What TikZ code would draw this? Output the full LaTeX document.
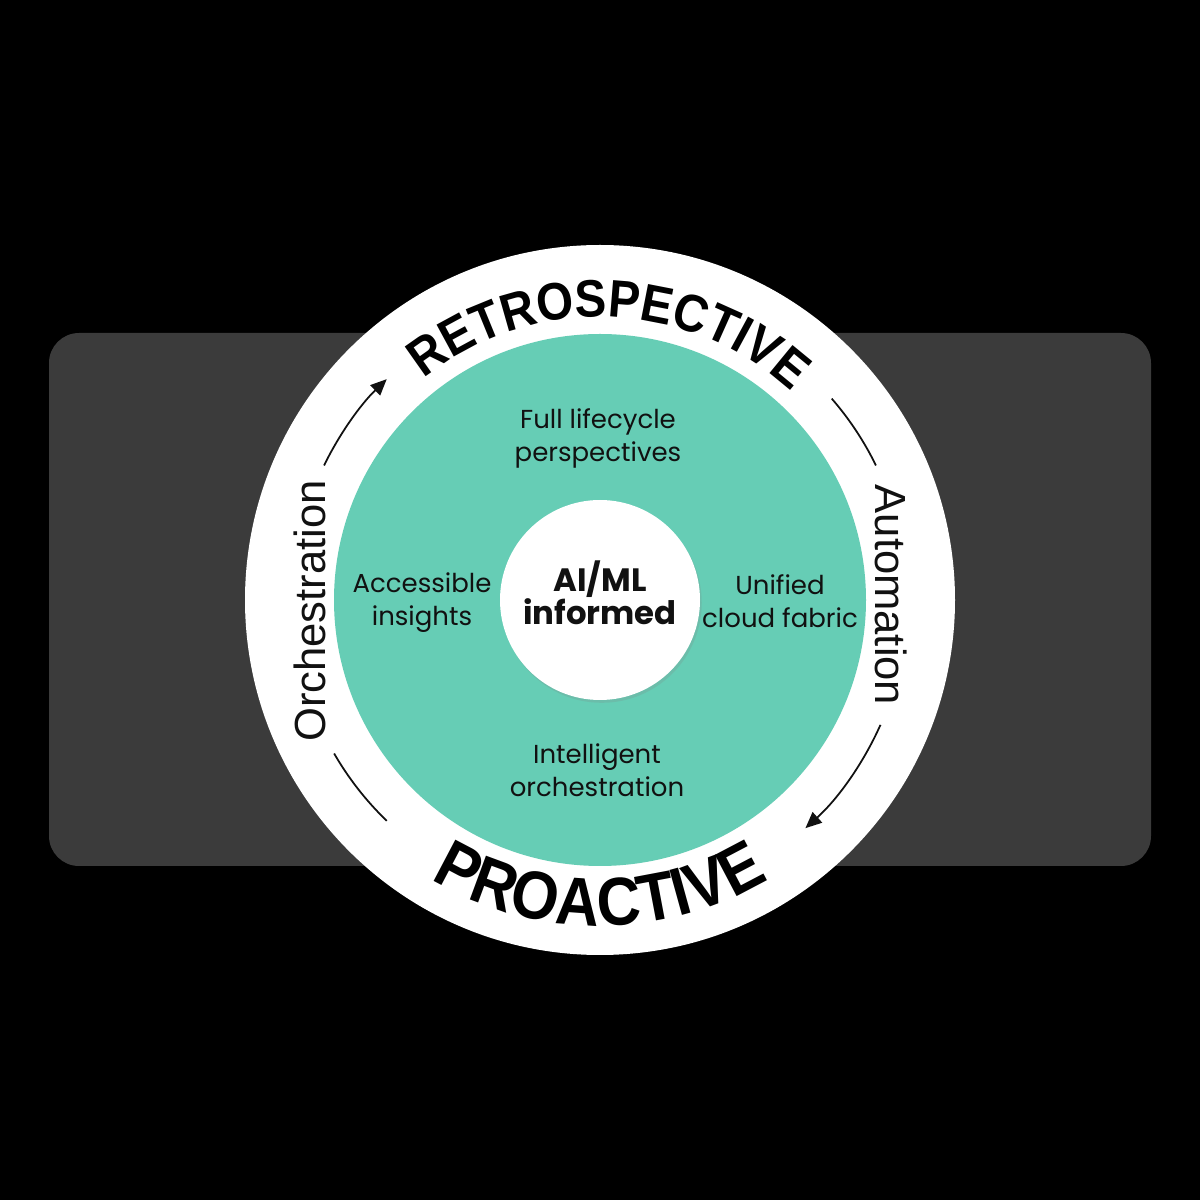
\documentclass[tikz,border=0pt]{standalone}
\usepackage{fontspec}
\setmainfont{Poppins}
\newfontfamily\arcfont[FakeStretch=0.9]{Liberation Sans Bold}
\newfontfamily\sidefont{Liberation Sans}
\usetikzlibrary{decorations.text,arrows.meta,shadows,calc}
\definecolor{tealfill}{HTML}{66CDB5}
\definecolor{panel}{HTML}{3B3B3B}
\definecolor{ink}{HTML}{111111}
\tikzset{
  innertext/.style={align=center, text=ink, inner sep=0pt, font=\fontsize{7.4}{9.4}\selectfont},
  sidetext/.style={text=ink, inner sep=0pt, font=\sidefont\fontsize{12.4}{14}\selectfont},
  arcline/.style={draw=ink, line width=0.5pt},
  tip/.style={-{Triangle[length=4.6pt,width=4pt]}}
}
\begin{document}
\begin{tikzpicture}
\fill[black] (0,0) rectangle (12,12);
\useasboundingbox (0,0) rectangle (12,12);
\fill[panel, rounded corners=0.3cm] (0.49,3.34) rectangle (11.51,8.67);
\coordinate (c) at (6,6);
\node[circle, fill=white, minimum size=7.1cm, inner sep=0pt] (outer) at (c) {};
\node[circle, fill=tealfill, minimum size=5.32cm, inner sep=0pt] (ring) at (c) {};
\node[circle, fill=white, minimum size=2.0cm, inner sep=0pt,
      drop shadow={shadow xshift=0.5pt, shadow yshift=-0.8pt, opacity=0.2}] (core) at (c) {};
\node[align=center, text=ink, inner sep=0pt, font=\fontsize{9.2}{9.4}\selectfont\bfseries] (ai) at (6,6.07) {AI/ML\\informed};
\node[innertext] (full) at (5.98,7.62) {Full lifecycle\\perspectives};
\node[innertext] (access) at (4.22,5.97) {Accessible\\insights};
\node[innertext] (unified) at (7.80,5.99) {Unified\\cloud fabric};
\node[innertext] (intel) at (5.97,4.30) {Intelligent\\orchestration};
\path[decorate, decoration={text along path, text align=center,
   text={|\arcfont\fontsize{15}{15}\selectfont|RETROSPECTIVE}}]
   ($(c)+(133:2.83)$) arc[start angle=133, end angle=43, radius=2.83];
\path[decorate, decoration={text along path, text align=center,
   text={|\arcfont\fontsize{19.3}{19}\selectfont|PROACTIVE}}]
   ($(c)+(225:3.26)$) arc[start angle=225, end angle=315, radius=3.26];
\node[sidetext, rotate=90] (orch) at (3.10,5.89) {Orchestration};
\node[sidetext, rotate=-90] (auto) at (8.91,6.05) {Automation};
\draw[arcline] ($(c)+(226:3.07)$) arc[start angle=226, end angle=210, radius=3.07];
\draw[arcline, tip] ($(c)+(154:3.07)$) arc[start angle=154, end angle=134, radius=3.07];
\draw[arcline] ($(c)+(41:3.07)$) arc[start angle=41, end angle=26, radius=3.07];
\draw[arcline, tip] ($(c)+(-24:3.07)$) arc[start angle=-24, end angle=-48, radius=3.07];
\end{tikzpicture}
\end{document}
